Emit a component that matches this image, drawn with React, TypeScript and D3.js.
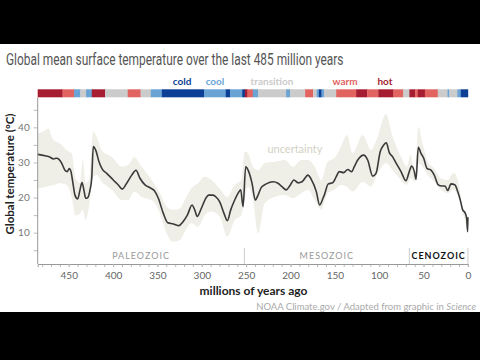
import React, { useEffect, useRef } from 'react'
import * as d3 from 'd3'

// temperature curve (millions of years ago, °C)
const ages = [485, 476.8, 471, 467.4, 463.6, 461, 458, 454.3, 451.6, 449.4, 447.5, 445.5, 443, 439.9, 437.3, 435, 432.8, 430.9, 428.6, 426, 424.1, 422.3, 419.3, 415.9, 412.2, 407.2, 399.8, 394.1, 389.6, 384.7, 379, 374.2, 369.7, 364, 358.4, 353.6, 349, 343.4, 338.4, 332.1, 325.7, 321.2, 316.3, 311, 308, 305.1, 300.6, 296.1, 292.2, 287.4, 283.7, 279.8, 275, 271.2, 267.4, 262.9, 259.2, 256.1, 253.5, 250.5, 247.1, 243.4, 239.7, 236.6, 232.9, 227.3, 219.7, 214.1, 209.6, 204.7, 200.9, 196.1, 191.5, 187, 180.3, 176.6, 170.9, 167.1, 163.4, 161.9, 157.4, 152.4, 148.7, 145, 140, 135.5, 131, 128.1, 124.2, 117.5, 113, 107.3, 103.6, 98.8, 94.9, 92, 88.6, 84.8, 81.1, 75.4, 69.8, 66.1, 63.4, 60.4, 58.5, 55.9, 52.9, 49.8, 46.1, 41.6, 37.9, 33.4, 29.5, 25.8, 22.8, 19, 14.5, 11.5, 8.6, 5.9, 3.3, 1.4, 0.3, 0]
const temps = [32.3, 31.9, 31.5, 31.0, 31.2, 30.9, 29.8, 27.8, 27.4, 28.3, 27.4, 24.5, 20.7, 19.6, 22.2, 24.3, 22.0, 19.8, 20.0, 22.2, 25.5, 34.5, 33.3, 30.2, 28.1, 26.9, 25.0, 23.6, 22.4, 24.1, 26.4, 27.8, 25.5, 23.6, 22.8, 22.0, 19.8, 15.5, 12.8, 12.5, 12.0, 13.1, 15.0, 17.9, 16.5, 14.6, 16.9, 19.5, 20.7, 20.7, 20.1, 18.8, 15.5, 13.4, 16.5, 19.3, 21.2, 22.2, 17.4, 28.8, 27.4, 24.1, 19.3, 20.7, 22.9, 23.9, 24.5, 24.1, 23.1, 22.2, 23.3, 25.0, 24.2, 24.5, 26.4, 25.2, 21.7, 17.9, 19.8, 20.7, 23.9, 24.2, 25.8, 27.4, 27.1, 28.0, 27.4, 28.8, 30.7, 32.1, 30.7, 26.1, 26.9, 33.1, 35.0, 35.6, 32.8, 31.6, 29.9, 27.4, 24.8, 27.4, 29.0, 27.4, 25.2, 34.3, 32.6, 31.2, 28.3, 27.8, 26.4, 23.6, 23.3, 23.3, 22.0, 23.9, 23.6, 21.7, 19.3, 16.5, 15.7, 14.1, 10.3, 14.4]

// uncertainty band
const bandAges = [485, 478.7, 473, 467.4, 459.9, 452.3, 446.7, 442.2, 437.3, 434.3, 430.9, 427.2, 422.3, 418.5, 412.9, 401.6, 390.3, 382.9, 376.1, 367.8, 356.5, 347.1, 339.6, 332.1, 324.6, 319.3, 311.8, 304.3, 296.7, 289.3, 279.8, 271.3, 262.9, 255.5, 251.6, 247.9, 242.3, 236.6, 229.1, 217.8, 206.5, 197.2, 187.8, 180.3, 172.7, 165.3, 158.1, 150.6, 143.1, 136.3, 129.9, 118.6, 109.2, 101.7, 92.3, 84.8, 75.4, 68.7, 64.9, 59.6, 55.9, 51, 45.3, 37.9, 30.3, 22.8, 16, 11.5, 5.9, 0.2, 0]
const bandHigh = [38.3, 38.8, 39.7, 36.4, 35.4, 33.5, 32.6, 25.5, 24.1, 30.7, 24.1, 25.0, 38.8, 37.3, 33.5, 31.6, 28.8, 29.3, 31.5, 28.8, 25.0, 21.2, 17.4, 16.5, 16.9, 19.3, 22.6, 24.1, 25.9, 25.0, 22.6, 20.2, 23.6, 25.0, 33.1, 32.6, 28.8, 27.8, 29.8, 30.2, 30.7, 28.8, 30.7, 30.7, 28.8, 25.0, 30.2, 31.2, 34.5, 37.8, 32.6, 37.8, 33.5, 37.3, 43.8, 37.3, 31.6, 28.8, 32.1, 27.4, 40.2, 35.4, 30.2, 28.3, 25.5, 25.0, 27.1, 25.0, 17.4, 14.6, 15.0]
const bandLow = [22.6, 22.9, 23.3, 23.6, 24.1, 23.6, 20.2, 15.0, 15.5, 16.5, 13.6, 17.4, 25.9, 26.4, 24.5, 22.2, 19.3, 19.3, 21.7, 20.2, 19.3, 15.5, 9.8, 7.4, 7.9, 10.3, 12.7, 11.7, 15.0, 16.0, 14.6, 8.9, 13.6, 15.0, 19.3, 23.1, 19.3, 9.8, 18.4, 20.2, 20.7, 19.8, 21.2, 22.2, 19.3, 16.5, 21.2, 22.2, 23.6, 23.1, 21.7, 24.5, 23.1, 26.9, 29.8, 27.8, 25.0, 23.6, 25.5, 24.5, 29.8, 28.8, 26.4, 24.5, 22.2, 21.2, 22.2, 20.7, 15.5, 10.3, 10.0]

// climate state strip: each segment starts at segStart and runs to the next one
const segStart = [485, 457, 444, 437, 430.5, 424, 409, 383.5, 369, 357.5, 345, 297.5, 273, 268, 254.5, 251.5, 248.5, 242.5, 236.5, 205, 200.5, 183.5, 174.5, 170.5, 168, 165, 162, 148.5, 126, 113.5, 101, 84, 73, 66, 59.5, 56.5, 48.5, 34, 23, 21, 12, 8]
const segState = ['hot', 'warm', 'cool', 'transition', 'cool', 'hot', 'transition', 'warm', 'transition', 'cool', 'cold', 'cool', 'cold', 'cool', 'cold', 'hot', 'warm', 'cool', 'transition', 'cool', 'transition', 'warm', 'transition', 'cool', 'cold', 'cool', 'transition', 'warm', 'hot', 'warm', 'hot', 'warm', 'transition', 'hot', 'warm', 'hot', 'warm', 'transition', 'cool', 'transition', 'cool', 'cold']

const states = ['cold', 'cool', 'transition', 'warm', 'hot']
const stateColors = ['#0c3f95', '#6aa3d4', '#cbcbcb', '#e26461', '#a61d31']
const legendX = [182, 215, 272, 345, 385]

const eras = ['PALEOZOIC', 'MESOZOIC', 'CENOZOIC']
const eraStart = [485, 252, 66]
const eraEnd = [252, 66, 0]

const xTicks = [450, 400, 350, 300, 250, 200, 150, 100, 50, 0]
const yTicks = [5, 10, 15, 20, 25, 30, 35, 40, 45]

const App = () => {
  const ref = useRef(null)

  useEffect(() => {
    const svg = d3.select(ref.current)
    svg.selectAll('*').remove()
    const font = 'Lato, "Open Sans", sans-serif'

    const x = d3.scaleLinear().domain([485, 0]).range([37.7, 467.9])
    const y = d3.scaleLinear().domain([0, 45]).range([267.8, 109.8])
    const color = d3.scaleOrdinal().domain(states).range(stateColors)

    // letterbox
    svg.append('rect').attr('width', 480).attr('height', 360).attr('fill', '#000')
    svg.append('rect').attr('y', 44).attr('width', 480).attr('height', 268).attr('fill', '#fff')

    // condensed title: squeeze the measured text to the reference width
    const title = svg.append('text')
      .attr('font-family', 'Roboto, sans-serif')
      .attr('font-size', 17)
      .attr('fill', '#555')
      .text('Global mean surface temperature over the last 485 million years')
    const natural = title.node().getComputedTextLength() || 338
    title.attr('transform', 'translate(6,65) scale(' + (338 / natural) + ',1)')

    // legend labels
    svg.selectAll('.legend')
      .data(states)
      .enter().append('text')
      .attr('x', (d, i) => legendX[i])
      .attr('y', 84.5)
      .attr('text-anchor', 'middle')
      .attr('font-family', font)
      .attr('font-size', 10)
      .attr('font-weight', 'bold')
      .attr('fill', d => color(d))
      .text(d => d)

    // climate strip
    svg.selectAll('.seg')
      .data(segStart)
      .enter().append('rect')
      .attr('x', d => x(d))
      .attr('y', 89.3)
      .attr('width', (d, i) => x(i < segStart.length - 1 ? segStart[i + 1] : 0) - x(d) + 0.3)
      .attr('height', 8)
      .attr('fill', (d, i) => color(segState[i]))

    // uncertainty band
    const band = bandAges.map((a, i) => ({ a, hi: bandHigh[i], lo: bandLow[i] }))
    svg.append('path')
      .datum(band)
      .attr('fill', '#efeee7')
      .attr('d', d3.area()
        .x(d => x(d.a))
        .y0(d => y(d.lo))
        .y1(d => y(d.hi))
        .curve(d3.curveMonotoneX))

    svg.append('text')
      .attr('x', x(195)).attr('y', 153)
      .attr('text-anchor', 'middle')
      .attr('font-family', font)
      .attr('font-size', 11)
      .attr('fill', '#d3d1c6')
      .text('uncertainty')

    // temperature line
    const pts = ages.map((a, i) => ({ a, t: temps[i] }))
    svg.append('path')
      .datum(pts)
      .attr('fill', 'none')
      .attr('stroke', '#3a3a3a')
      .attr('stroke-width', 1.6)
      .attr('stroke-linejoin', 'round')
      .attr('d', d3.line()
        .x(d => x(d.a))
        .y(d => y(d.t))
        .curve(d3.curveMonotoneX))

    // y axis
    const yAxis = svg.append('g')
      .attr('transform', 'translate(' + x(485) + ',0)')
      .call(d3.axisLeft(y).tickValues(yTicks).tickSize(4).tickPadding(4)
        .tickFormat(d => (d % 10 === 0 ? String(d) : '')))
    yAxis.select('.domain').remove()
    yAxis.selectAll('line').attr('stroke', '#bbb')
    yAxis.selectAll('text').attr('font-family', font).attr('font-size', 10).attr('fill', '#777')
    svg.append('line')
      .attr('x1', x(485)).attr('x2', x(485))
      .attr('y1', 97.5).attr('y2', 264)
      .attr('stroke', '#999')

    svg.append('text')
      .attr('transform', 'translate(14,174) rotate(-90)')
      .attr('text-anchor', 'middle')
      .attr('font-family', font)
      .attr('font-size', 11.5)
      .attr('font-weight', 'bold')
      .attr('fill', '#222')
      .text('Global temperature (°C)')

    // x axis
    const minor = svg.append('g')
      .attr('transform', 'translate(0,264)')
      .call(d3.axisBottom(x).tickValues(d3.range(0, 481, 10)).tickSize(3).tickFormat(() => ''))
    minor.select('.domain').remove()
    minor.selectAll('line').attr('stroke', '#bbb')

    const xAxis = svg.append('g')
      .attr('transform', 'translate(0,264)')
      .call(d3.axisBottom(x).tickValues(xTicks).tickSize(3).tickPadding(5))
    xAxis.select('.domain').attr('stroke', '#999')
    xAxis.selectAll('line').attr('stroke', '#bbb')
    xAxis.selectAll('text').attr('font-family', font).attr('font-size', 10).attr('fill', '#666')

    svg.append('text')
      .attr('x', 253.5).attr('y', 295)
      .attr('text-anchor', 'middle')
      .attr('font-family', font)
      .attr('font-size', 12)
      .attr('font-weight', 'bold')
      .attr('fill', '#222')
      .text('millions of years ago')

    // eras
    svg.selectAll('.era-sep')
      .data([252, 66, 0])
      .enter().append('line')
      .attr('x1', d => x(d)).attr('x2', d => x(d))
      .attr('y1', 248).attr('y2', 264)
      .attr('stroke', '#ccc')

    svg.selectAll('.era')
      .data(eras)
      .enter().append('text')
      .attr('x', (d, i) => (x(eraStart[i]) + x(eraEnd[i])) / 2)
      .attr('y', 259)
      .attr('text-anchor', 'middle')
      .attr('font-family', font)
      .attr('font-size', 9)
      .attr('letter-spacing', 1)
      .attr('font-weight', (d, i) => (i === 2 ? 'bold' : 'normal'))
      .attr('fill', (d, i) => (i === 2 ? '#111' : '#999'))
      .text(d => d)

    const credit = svg.append('text')
      .attr('x', 476).attr('y', 310)
      .attr('text-anchor', 'end')
      .attr('font-family', font)
      .attr('font-size', 9.5)
      .attr('fill', '#aaa')
    credit.append('tspan').text('NOAA Climate.gov / Adapted from graphic in ')
    credit.append('tspan').attr('font-style', 'italic').text('Science')
  }, [])

  return (
    <svg ref={ref} width={480} height={360}
      style={{ position: 'absolute', left: 0, top: 0, display: 'block' }} />
  )
}

export default App
